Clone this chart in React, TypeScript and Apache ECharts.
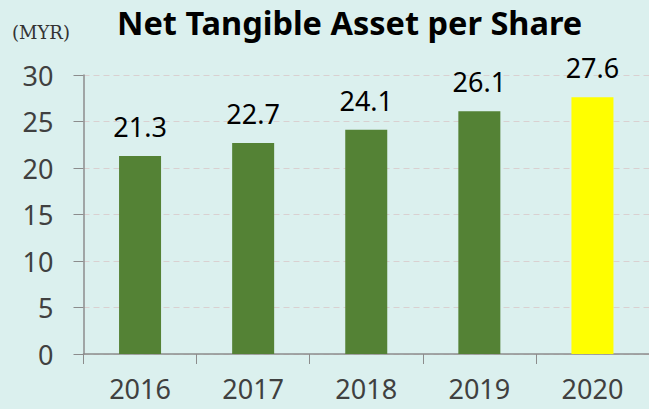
import React, { useEffect, useRef } from "react";
import * as echarts from "echarts";

const categories = ["2016", "2017", "2018", "2019", "2020"];
const values = [21.3, 22.7, 24.1, 26.1, 27.6];
const barColors = ["#548235", "#548235", "#548235", "#548235", "#ffff00"];
const titleText = "Net Tangible Asset per Share";
const unitText = "(MYR)";

export default function App() {
  const ref = useRef<HTMLDivElement>(null);
  useEffect(() => {
    const chart = echarts.init(ref.current!, null, { renderer: "svg" });
    chart.setOption({
      animation: false,
      backgroundColor: "#dbf0ee",
      title: {
        text: titleText,
        left: 112,
        top: 1,
        textStyle: { fontFamily: "Noto Sans", fontWeight: "bold", fontSize: 32.5, color: "#000" },
      },
      graphic: [
        {
          type: "text",
          left: 12,
          top: 23,
          style: { text: unitText, font: "18px 'DejaVu Serif', 'Liberation Serif', serif", fill: "#333" },
        },
      ],
      grid: { left: 83.5, top: 75, width: 567, height: 279, containLabel: false },
      xAxis: {
        type: "category",
        data: categories,
        axisLine: { lineStyle: { color: "#8c8c8c", width: 1.5 } },
        axisTick: { show: true, length: 10, lineStyle: { color: "#8c8c8c" } },
        axisLabel: { color: "#404040", fontFamily: "Noto Sans", fontSize: 27, margin: 21 },
      },
      yAxis: {
        type: "value",
        min: 0,
        max: 30,
        interval: 5,
        axisLine: { show: true, lineStyle: { color: "#8c8c8c", width: 1.5 } },
        axisTick: { show: true, length: 10, lineStyle: { color: "#8c8c8c" } },
        axisLabel: { color: "#404040", fontFamily: "Noto Sans", fontSize: 27, margin: 30 },
        splitLine: { lineStyle: { color: "#d9d0d0", type: [6, 4] } },
      },
      series: [
        {
          type: "bar",
          data: values.map((v, i) => ({ value: v, itemStyle: { color: barColors[i] } })),
          barWidth: 42,
          label: {
            show: true,
            position: "top",
            distance: 16,
            color: "#000",
            fontFamily: "Noto Sans",
            fontSize: 27,
          },
        },
      ],
    });
    return () => chart.dispose();
  }, []);
  return <div ref={ref} style={{ width: 649, height: 409, position: "absolute", left: 0, top: 0 }} />;
}
